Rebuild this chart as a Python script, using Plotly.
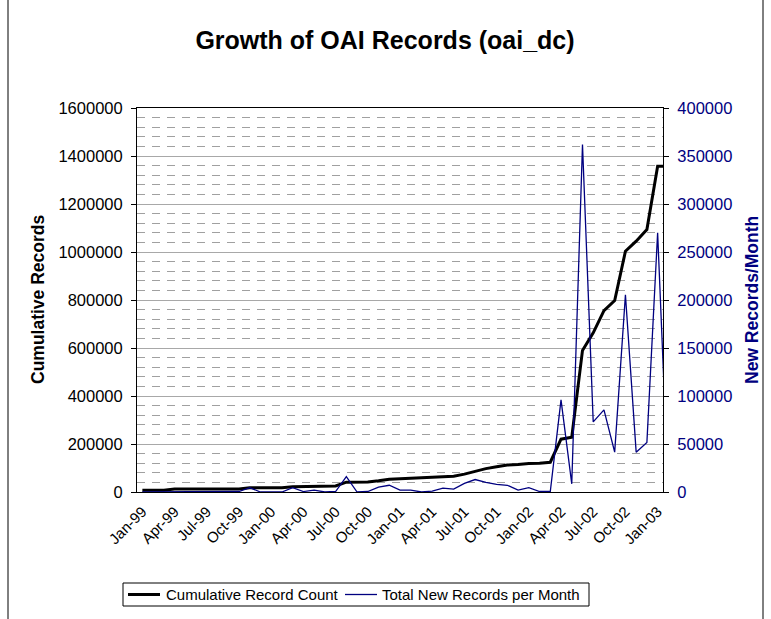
import plotly.graph_objects as go

months = [
    "Jan-99", "Feb-99", "Mar-99", "Apr-99", "May-99", "Jun-99", "Jul-99", "Aug-99", "Sep-99", "Oct-99", "Nov-99", "Dec-99",
    "Jan-00", "Feb-00", "Mar-00", "Apr-00", "May-00", "Jun-00", "Jul-00", "Aug-00", "Sep-00", "Oct-00", "Nov-00", "Dec-00",
    "Jan-01", "Feb-01", "Mar-01", "Apr-01", "May-01", "Jun-01", "Jul-01", "Aug-01", "Sep-01", "Oct-01", "Nov-01", "Dec-01",
    "Jan-02", "Feb-02", "Mar-02", "Apr-02", "May-02", "Jun-02", "Jul-02", "Aug-02", "Sep-02", "Oct-02", "Nov-02", "Dec-02",
    "Jan-03", "Feb-03",
]

cumulative = [
    7000, 7000, 7000, 12000, 12000, 12000, 12000, 12000, 12500, 13000, 17500, 17500,
    17500, 17500, 22000, 22500, 24500, 24500, 25000, 41000, 41000, 41500, 46500, 53500,
    55500, 57500, 57500, 58500, 62500, 65500, 74500, 87500, 97500, 105500, 112500, 114500,
    119000, 119500, 124000, 220000, 228500, 590000, 663000, 756000, 798000, 1003000, 1045000, 1094000,
    1357000, 1357000,
]

new_per_month = [
    0, 0, 0, 500, 0, 0, 0, 0, 0, 500, 4500, 0,
    0, 0, 4500, 500, 2000, 0, 500, 16000, 0, 500, 5000, 7000,
    2000, 2000, 0, 1000, 4000, 3000, 9000, 13000, 10000, 8000, 7000, 2000,
    4500, 500, 500, 96000, 8500, 362000, 73000, 85500, 41500, 205500, 41500, 51500,
    270000, 0,
]

series_names = ["Cumulative Record Count", "Total New Records per Month"]
label_every = 3
NAVY = "#000080"
FONT = "Liberation Sans, Arial, sans-serif"

# plot-area pixel geometry (used to place paper-referenced decorations)
L, R, T, B = 137, 663, 108, 492
W, H = R - L, B - T


def px(x):
    return (x - L) / W


def py(y):
    return (B - y) / H


idx = list(range(len(months)))
label_idx = idx[::label_every][:17]

fig = go.Figure()
fig.add_trace(go.Scatter(
    x=idx, y=cumulative, mode="lines", name=series_names[0],
    line=dict(color="black", width=3), yaxis="y", showlegend=False,
))
fig.add_trace(go.Scatter(
    x=idx, y=new_per_month, mode="lines", name=series_names[1],
    line=dict(color=NAVY, width=1.3), yaxis="y2", showlegend=False,
))

xr = [-0.5, 48.5]

leg_y = 594.5
shapes = [
    dict(type="rect", xref="paper", yref="paper",
         x0=px(8), x1=px(763), y0=py(640), y1=py(-10),
         line=dict(color="black", width=1), fillcolor="rgba(0,0,0,0)", layer="below"),
    dict(type="rect", xref="paper", yref="paper",
         x0=px(123), x1=px(589), y0=py(606), y1=py(583),
         line=dict(color="black", width=1), fillcolor="white"),
    dict(type="line", xref="paper", yref="paper",
         x0=px(128), x1=px(160), y0=py(leg_y), y1=py(leg_y),
         line=dict(color="black", width=3)),
    dict(type="line", xref="paper", yref="paper",
         x0=px(345), x1=px(377), y0=py(leg_y), y1=py(leg_y),
         line=dict(color=NAVY, width=1.3)),
]

annotations = [
    dict(text="<b>Cumulative Records</b>", x=px(38), y=0.5,
         xref="paper", yref="paper", textangle=-90, showarrow=False,
         xanchor="center", yanchor="middle",
         font=dict(size=17.5, family=FONT, color="black")),
    dict(text="<b>New Records/Month</b>", x=px(752), y=0.5,
         xref="paper", yref="paper", textangle=-90, showarrow=False,
         xanchor="center", yanchor="middle",
         font=dict(size=17.5, family=FONT, color=NAVY)),
    dict(text=series_names[0], x=px(164), y=py(leg_y), xref="paper", yref="paper",
         showarrow=False, xanchor="left", yanchor="middle",
         font=dict(size=15, family=FONT, color="black")),
    dict(text=series_names[1], x=px(380), y=py(leg_y), xref="paper", yref="paper",
         showarrow=False, xanchor="left", yanchor="middle",
         font=dict(size=15, family=FONT, color="black")),
]

fig.update_layout(
    width=771, height=619,
    margin=dict(l=L, r=771 - R, t=T, b=619 - B),
    paper_bgcolor="white", plot_bgcolor="white",
    font=dict(family=FONT, color="black"),
    showlegend=False,
    title=dict(
        text="<b>Growth of OAI Records (oai_dc)</b>",
        x=385 / 771, xref="container", xanchor="center", y=1 - 40 / 619, yanchor="middle",
        font=dict(size=25, family=FONT, color="black"),
    ),
    xaxis=dict(
        range=xr, tickmode="array", tickvals=label_idx,
        ticktext=[months[i] for i in label_idx], tickangle=-45,
        ticks="", showgrid=False, zeroline=False, ticklabelstandoff=4,
        showline=True, linecolor="black", linewidth=1, mirror=True,
        tickfont=dict(size=15, family=FONT, color="black"),
    ),
    xaxis2=dict(
        range=xr, overlaying="x", anchor="y", side="bottom",
        tickmode="array", tickvals=[i - 0.5 for i in label_idx],
        ticks="outside", ticklen=5, tickcolor="black",
        showticklabels=False, showgrid=False, zeroline=False, showline=False,
    ),
    yaxis=dict(
        range=[0, 1600000], dtick=200000, tick0=0,
        ticks="outside", ticklen=5, tickcolor="black",
        showline=True, linecolor="black", linewidth=1, mirror=True,
        showgrid=True, gridcolor="#a8a8a8", gridwidth=1, zeroline=False,
        tickformat="d", ticklabelstandoff=5,
        tickfont=dict(size=16.5, family=FONT, color="black"),
        minor=dict(dtick=40000, tick0=0, showgrid=True, gridcolor="#a0a0a0",
                   griddash="8px,7px", gridwidth=1),
    ),
    yaxis2=dict(
        range=[0, 400000], dtick=50000, tick0=0, overlaying="y", side="right",
        anchor="x", ticks="outside", ticklen=5, tickcolor="black",
        showline=False, showgrid=False, zeroline=False, tickformat="d",
        ticklabelstandoff=5,
        tickfont=dict(size=16.5, family=FONT, color=NAVY),
    ),
    yaxis3=dict(
        range=[0, 400000], dtick=50000, tick0=0, overlaying="y", side="right",
        anchor="x", ticks="inside", ticklen=5, tickcolor="black",
        showticklabels=False, showline=False, showgrid=False, zeroline=False,
    ),
    annotations=annotations,
    shapes=shapes,
)

fig.write_html("out.html")
